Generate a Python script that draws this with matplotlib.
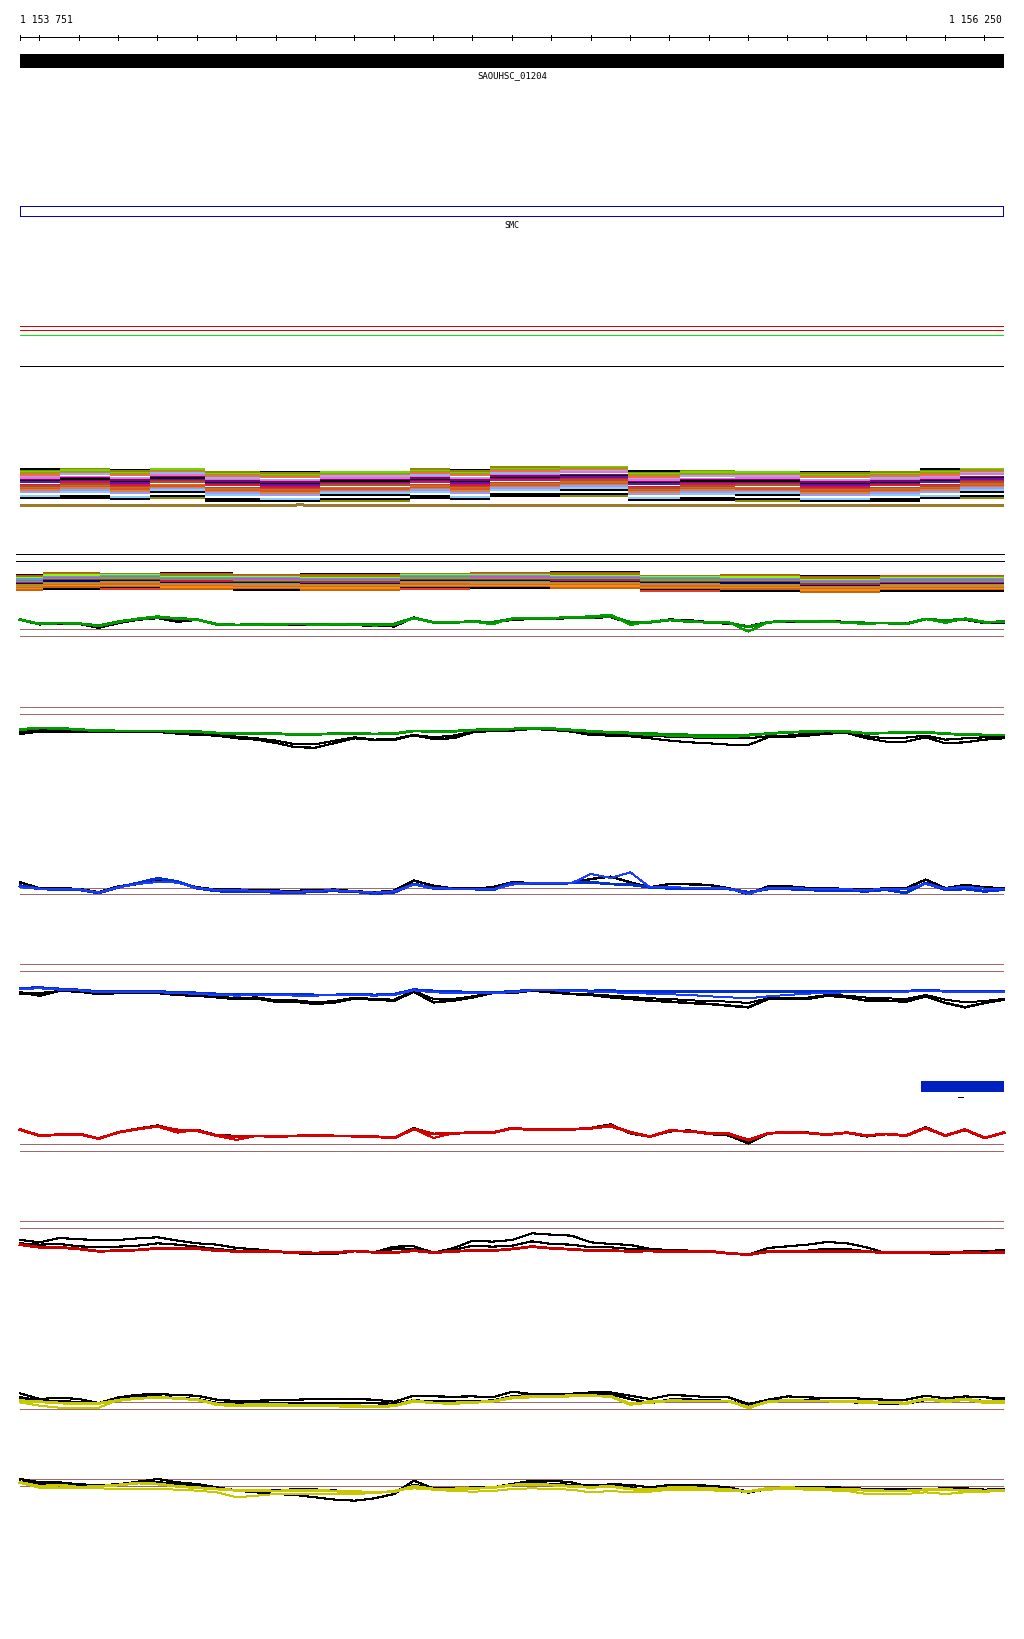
import numpy as np
import matplotlib
matplotlib.use("Agg")
import matplotlib.pyplot as plt

plt.rcParams['lines.antialiased'] = False
plt.rcParams['patch.antialiased'] = False

# window
start = 1153751
end = 1156250
gene = ('SAOUHSC_01204', 1153751, 1156250)
domain = ('SMC', 1153751, 1156250)
small_feature = (1156039, 1156250)

# sampling grid of the coverage-like tracks (every 50 bp)
pos = np.append(np.arange(1153751, 1156250, 50), 1156250)

# track 1 (green)
t1_black = [38,24,27,26,14,28,38,43,32,38, 23,22,23,23,24,24,23,22,20,18, 44,30,30,31,29,38,40,41,43,44,
            46,28,31,38,36,30,26,18,30,33, 32,33,31,28,28,26,40,34,38,28, 30]
t1_green = [38,25,28,26,20,32,40,45,42,38, 24,22,23,24,25,25,24,24,23,25, 43,30,30,32,30,40,42,42,45,45,
            48,30,30,37,32,30,28,16,30,34, 33,32,30,28,28,25,40,35,40,30, 32]
t1_green2 = [38,26,28,27,18,30,42,48,40,38, 24,22,23,24,25,22,24,23,20,22, 42,30,30,32,24,42,42,43,46,48,
             53,22,32,38,33,30,30,2,30,34, 33,32,28,25,28,26,40,28,42,32, 32]

# track 2 (green)
t2_black = [55,62,62,61,60,60,61,61,56,52, 50,42,38,28,15,14,28,42,37,37, 51,40,42,60,64,65,70,67,62,52,
            50,48,42,35,30,27,23,22,45,46, 50,56,58,42,32,32,45,27,30,38, 42]
t2_black2 = [60,68,66,64,62,62,62,62,57,55, 52,47,42,35,24,24,35,45,38,40, 52,45,50,62,63,67,71,70,64,56,
             54,52,49,47,45,43,42,42,48,50, 56,60,60,48,42,44,50,38,42,45, 48]
t2_green = [68,73,72,68,65,64,64,64,63,62, 58,56,57,56,53,54,56,56,55,56, 64,63,63,67,68,70,72,71,67,63,
            60,58,56,54,52,50,50,52,56,60, 62,64,62,57,58,60,60,56,53,52, 52]
t2_green2 = [70,74,72,69,66,65,65,64,63,62, 59,57,57,55,54,55,56,57,56,57, 65,62,62,66,69,71,73,72,68,64,
             61,56,52,50,48,45,45,50,56,61, 63,65,63,58,59,61,61,57,54,53, 53]

# track 3 (blue)
t3_black = [45,27,27,25,15,33,40,49,45,30, 23,23,22,20,19,22,23,18,15,20, 50,35,26,26,30,45,43,43,43,55,
            62,45,30,40,39,37,27,9,33,33, 28,27,25,23,27,27,53,27,37,30, 27]
t3_blue = [35,25,24,23,13,30,43,57,47,27, 19,17,17,15,13,18,19,17,11,15, 40,27,25,25,22,43,41,41,43,45,
           40,38,30,27,27,27,25,15,25,25, 23,19,20,18,23,13,43,23,25,18, 23]
t3_blue2 = [30,26,25,24,14,30,40,46,44,28, 22,21,20,18,16,20,21,18,14,18, 38,27,26,26,24,38,42,42,42,70,
            58,75,30,30,29,29,26,10,28,28, 26,24,24,22,26,24,40,26,32,26, 26]

# track 4 (blue)
t4_black = [60,50,65,62,55,58,60,58,52,50, 45,40,42,32,32,25,30,42,38,35, 62,30,35,45,58,58,65,60,55,52,
            45,40,35,32,28,25,20,15,40,40, 40,50,45,35,35,32,48,28,15,28, 38]
t4_black2 = [55,58,64,63,58,58,60,58,54,52, 48,42,45,36,36,30,34,44,40,38, 64,40,40,48,58,58,64,60,56,54,
             50,46,42,40,36,34,32,28,42,42, 44,52,50,44,42,40,52,38,30,34, 40]
t4_blue = [72,74,70,67,62,62,62,62,60,58, 55,55,54,54,54,52,52,54,52,54, 68,64,62,60,60,62,67,67,65,64,
           65,62,62,62,62,62,62,62,62,62, 62,63,63,63,63,63,67,63,63,63, 63]
t4_blue2 = [70,72,68,66,60,60,60,60,58,55, 52,50,52,52,50,50,52,52,50,52, 66,60,58,58,58,60,66,66,64,62,
            60,58,56,54,52,48,45,42,48,52, 56,58,60,62,62,62,65,62,62,62, 62]

# track 5 (red)
t5_black = [53,36,38,40,26,45,56,65,50,52, 36,34,34,33,34,36,34,34,32,28, 57,40,42,44,44,58,53,53,54,58,
            68,42,32,48,50,40,36,12,42,46, 44,38,44,33,40,35,60,35,52,28, 44]
t5_red = [53,35,38,40,26,45,55,63,52,50, 35,33,34,33,34,36,34,34,32,28, 55,40,42,44,44,57,53,53,54,57,
          65,45,32,50,48,42,40,22,42,45, 43,38,44,35,40,35,58,35,53,28, 44]
t5_red2 = [53,35,36,38,25,44,54,62,44,52, 34,22,34,33,34,36,34,32,32,28, 55,28,42,44,44,56,53,53,54,56,
           62,44,32,48,48,40,42,20,42,45, 43,38,44,35,40,35,58,35,54,30, 44]

# track 6 (red)
t6_black = [52,45,58,54,52,52,57,60,50,42, 38,28,24,18,12,10,10,20,15,32, 33,14,27,50,47,52,72,68,65,45,
            40,37,25,22,20,18,12,8,28,33, 38,46,42,30,12,12,12,10,18,18, 22]
t6_black2 = [42,38,40,33,30,32,35,42,38,32, 25,20,20,16,12,10,10,18,15,25, 26,15,22,35,32,35,48,40,38,30,
             30,25,22,20,20,18,12,8,20,20, 20,26,25,18,12,12,14,12,15,18, 20]
t6_red = [38,30,30,25,18,20,22,27,26,26, 20,18,18,17,14,13,14,19,15,14, 20,14,18,20,20,25,32,27,24,20,
          20,18,19,17,17,18,12,8,17,17, 17,18,18,17,14,14,14,14,14,13, 14]

# track 7 (yellow)
t7_black = [52,35,39,35,23,40,48,50,47,45, 33,29,30,32,33,35,35,35,33,27, 45,43,42,43,40,57,50,51,51,55,
            55,45,35,47,45,40,40,20,33,43, 40,38,39,35,33,33,45,37,43,40, 37]
t7_black2 = [40,30,29,25,22,33,41,43,37,35, 23,25,25,23,22,23,23,23,23,20, 31,27,27,29,30,43,47,47,47,48,
             50,35,23,33,33,31,29,13,29,31, 31,29,27,23,22,21,33,31,33,29, 31]
t7_yellow = [30,27,23,22,22,31,37,40,37,33, 20,17,18,18,17,17,17,15,13,15, 30,23,23,25,28,40,43,43,45,45,
             43,20,25,30,29,29,29,10,27,31, 29,29,27,27,25,23,35,29,35,27, 27]
t7_yellow2 = [25,15,9,7,9,33,39,39,37,33, 17,13,15,15,15,13,13,11,11,13, 27,23,20,25,27,37,40,40,43,45,
              43,17,29,30,29,29,29,7,27,31, 29,29,27,23,25,20,35,25,33,23, 23]

# track 8 (yellow)
t8_black = [75,65,65,59,57,59,67,75,65,60, 50,40,35,30,27,20,13,10,17,30, 70,47,45,47,50,60,70,70,65,50,
            60,57,50,57,57,55,50,37,47,49, 49,50,49,45,45,45,43,47,47,43, 45]
t8_black2 = [67,60,63,57,55,59,65,65,60,55, 45,42,40,42,43,43,40,35,35,37, 57,47,47,49,49,60,63,60,57,55,
             57,50,37,53,53,50,45,35,45,49, 49,49,47,43,41,41,43,47,45,40, 43]
t8_yellow = [65,53,57,50,53,57,63,60,53,49, 45,41,40,39,40,40,39,37,35,37, 53,45,45,47,49,57,59,57,53,50,
             53,45,43,49,49,47,43,37,47,49, 47,45,45,41,39,39,43,43,41,39, 41]
t8_yellow2 = [63,49,49,49,47,45,45,45,43,40, 35,20,25,30,30,30,30,30,33,40, 47,43,39,37,39,45,47,45,43,35,
              39,35,37,43,43,41,39,37,43,45, 43,41,39,30,30,30,35,30,35,37, 39]

# stacked multicolour tracks: row levels + block shifts per segment
stackA_levels = [40, 38.5, 37, 35.6, 34.2, 32, 30.8, 29.4, 28, 26.8, 24.3, 22.9, 21.5, 20.1, 18.6, 17, 13, 11]
stackA_colors = ['black', '#8b8b00', '#66dd00', '#9a9a10', '#ff6347', '#87b8f0', '#ff66cc', '#800080', 'black',
                 '#6a0dad', '#dc143c', '#a0522d', '#d2691e', '#e05020', '#cd853f', '#9999ff', '#87cefa', 'black']
stackA_edges = [1153751, 1153853, 1153980, 1154081, 1154221, 1154361, 1154513, 1154742, 1154843, 1154945,
                1155122, 1155295, 1155427, 1155567, 1155732, 1155910, 1156037, 1156139, 1156250]
stackA_shift = [0, 0.5, -0.5, 0, -3, -2.5, -3, 0, -0.5, 2, 2.5, -2, -1.5, -3, -2.5, -3, 0, 0.5]
stackA_rot = [0, 1, 0, 2, 1, 0, 2, 1, 0, 1, 2, 0, 1, 2, 0, 1, 0, 2]
goldA_edges = [1153751, 1154452, 1154470, 1156250]
goldA_level = [3.7, 4.7, 3.7]

stackB_levels = [20.5, 19.3, 18.1, 16.9, 15.7, 14.5, 13.3, 12.1, 10.9, 9.7, 8.5, 7.3, 6.1, 4.9]
stackB_colors = ['black', '#e0402a', '#8b8b00', '#7fff00', '#6495ed', '#ba55d3', '#32cd32', '#dc143c',
                 '#00008b', '#9a9a10', '#cd853f', '#d2691e', '#ff8c00', '#c86414']
stackB_edges = [1153741, 1153809, 1153954, 1154107, 1154292, 1154462, 1154716, 1154894, 1155097, 1155326,
                1155529, 1155732, 1155935, 1156250]
stackB_shift = [0, 1.5, 1, 1.5, 0, 0.5, 1, 2, 2.5, -1, -0.5, -1.5, -1]
stackB_rot = [0, 1, 2, 0, 1, 0, 2, 1, 0, 2, 1, 0, 1]

brown = '#a06a6a'
W, H = 1024, 1640

fig = plt.figure(figsize=(W / 100, H / 100), dpi=100)
ax0 = fig.add_axes([20 / W, 0, 984 / W, 1])
ax0.set_xlim(start, end)
ax0.set_ylim(H, 0)
ax0.axis('off')

mono = 'DejaVu Sans Mono'
px = 0.72  # one pixel in points

# ruler
ax0.hlines(38.3, start, end, color='black', lw=px)
ticks = [start] + list(range(1153800, 1156201, 100)) + [end]
ax0.vlines(ticks, 35.5, 41, color='black', lw=px)
ax0.text(start, 20, f"{start:,}".replace(',', ' '), ha='left', va='center', fontsize=7, family=mono)
ax0.text(end - 5, 20, f"{end:,}".replace(',', ' '), ha='right', va='center', fontsize=7, family=mono)

# gene
ax0.barh(62, gene[2] - gene[1], left=gene[1], height=14, color='black')
ax0.text((gene[1] + gene[2]) / 2, 76, gene[0], ha='center', va='center', fontsize=6.5, family=mono)

# domain
ax0.barh(212.3, domain[2] - domain[1] - 2, left=domain[1], height=10, fill=False, edgecolor='#0000cc',
         lw=px, clip_on=False)
ax0.text((domain[1] + domain[2]) / 2, 225, domain[0], ha='center', va='center', fontsize=6, family=mono)

# plain lines
ax0.hlines([327.3, 331.3], start, end, color='#dd0000', lw=px)
ax0.hlines(336, start, end, color='#00ee00', lw=px)
ax0.hlines(366.7, start, end, color='black', lw=px)
ax0.hlines([555.3, 562.3], 1153741, end, color='black', lw=px, clip_on=False)

# brown baselines
for yb in [630.3, 637.3, 708.3, 715.3, 888.7, 895.3, 965.3, 972.3,
           1145.3, 1152.3, 1222.3, 1229.3, 1403.3, 1410.3, 1480, 1487.3]:
    ax0.hlines(yb, start, end, color=brown, lw=px)

# small feature box
ax0.barh(1087.5, small_feature[1] - small_feature[0], left=small_feature[0], height=11, color='#0020c0')
ax0.hlines(1098, 1156133, 1156146, color='black', lw=px)


def sub_ax(bottom_px, height_px, ymax):
    ax = fig.add_axes([20 / W, 1 - bottom_px / H, 984 / W, height_px / H])
    ax.set_xlim(start, end)
    ax.set_ylim(0, ymax)
    ax.axis('off')
    return ax


# stacked track A
axA = sub_ax(510, 45, 45)
for i, lev in enumerate(stackA_levels):
    for s in range(len(stackA_shift)):
        c = stackA_colors[(i + stackA_rot[s]) % len(stackA_colors)]
        axA.hlines(lev + stackA_shift[s], stackA_edges[s], stackA_edges[s + 1], color=c, lw=1.1)
axA.stairs(goldA_level, goldA_edges, baseline=None, color='#9c7a28', lw=0.9)

# stacked track B
axB = sub_ax(596, 30, 30)
for i, lev in enumerate(stackB_levels):
    for s in range(len(stackB_shift)):
        c = stackB_colors[(i + stackB_rot[s]) % len(stackB_colors)]
        axB.hlines(lev + stackB_shift[s], stackB_edges[s], stackB_edges[s + 1], color=c, lw=1.1,
                   clip_on=False)

# coverage-like tracks: (bottom px, [(values, colour, width)])
tracks = [
    (633.3, [(t1_black, 'black', 1.1), (t1_green, '#008c00', 1.3), (t1_green2, '#00a000', 0.7)]),
    (753.3, [(t2_black, 'black', 0.8), (t2_black2, 'black', 0.8), (t2_green, '#008c00', 1.3),
             (t2_green2, '#00a000', 0.7)]),
    (898.3, [(t3_black, 'black', 1.0), (t3_blue, '#0030d0', 1.3), (t3_blue2, '#1a3dff', 0.7)]),
    (1013.3, [(t4_black, 'black', 1.1), (t4_black2, 'black', 0.7), (t4_blue, '#0030d0', 1.3),
              (t4_blue2, '#1a3dff', 0.7)]),
    (1148.3, [(t5_black, 'black', 1.1), (t5_red, '#cc0000', 1.3), (t5_red2, '#dd0000', 0.7)]),
    (1258.3, [(t6_black, 'black', 0.8), (t6_black2, 'black', 0.8), (t6_red, '#cc0000', 1.3)]),
    (1411.7, [(t7_black, 'black', 0.8), (t7_black2, 'black', 1.1), (t7_yellow, '#c8c800', 1.3),
              (t7_yellow2, '#c8c800', 0.7)]),
    (1505, [(t8_black, 'black', 0.8), (t8_black2, 'black', 1.1), (t8_yellow, '#c8c800', 1.3),
            (t8_yellow2, '#c8c800', 0.7)]),
]
for bottom, lines in tracks:
    ax = sub_ax(bottom, 100 / 3, 100)
    for vals, col, lw in lines:
        ax.plot(pos, vals, color=col, lw=lw, clip_on=False)

fig.savefig('out.png', dpi=100)
